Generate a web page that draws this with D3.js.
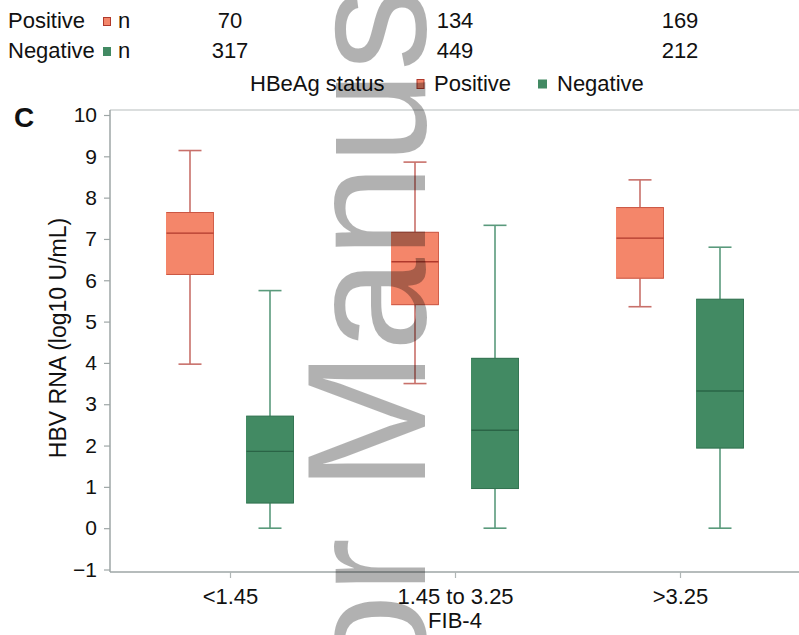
<!DOCTYPE html>
<html><head><meta charset="utf-8">
<script src="https://cdn.jsdelivr.net/npm/d3@7/dist/d3.min.js"></script>
<style>body{margin:0;background:#fff}svg{display:block;font-family:"Liberation Sans",Arial,sans-serif}</style>
</head><body>
<script>
const categories = ["<1.45", "1.45 to 3.25", ">3.25"];
const groups = ["Positive", "Negative"];
const nPositive = [70, 134, 169];
const nNegative = [317, 449, 212];
const posMin = [3.97, 3.50, 5.36];
const posQ1 = [6.14, 5.41, 6.05];
const posMedian = [7.14, 6.45, 7.02];
const posQ3 = [7.64, 7.16, 7.76];
const posMax = [9.14, 8.86, 8.43];
const negMin = [0, 0, 0];
const negQ1 = [0.61, 0.96, 1.94];
const negMedian = [1.86, 2.37, 3.32];
const negQ3 = [2.71, 4.11, 5.54];
const negMax = [5.75, 7.33, 6.80];
const yTicks = [-1, 0, 1, 2, 3, 4, 5, 6, 7, 8, 9, 10];

const W = 799, H = 635;
const svg = d3.select("body").append("svg").attr("width", W).attr("height", H);

const y = d3.scaleLinear().domain([-1, 10]).range([569.5, 115]);
const x = d3.scalePoint().domain(categories).range([230, 680]);
const off = d3.scalePoint().domain(groups).range([-40, 40]);
const boxW = 47, capW = 23;
const style = {
  Positive: {fill: "#f4866a", stroke: "#b0392c", whisker: "#c8706a"},
  Negative: {fill: "#428a63", stroke: "#2a6446", whisker: "#5a9a7c"}
};

const plotL = 110, plotR = 799, plotT = 110, plotB = 572;
svg.append("line").attr("x1", plotL).attr("x2", plotR).attr("y1", plotT).attr("y2", plotT)
  .attr("stroke", "#cfd3d3").attr("stroke-width", 1.5);
svg.append("line").attr("x1", plotL).attr("x2", plotL).attr("y1", plotT).attr("y2", plotB)
  .attr("stroke", "#9ea6a6").attr("stroke-width", 1.5);
svg.append("line").attr("x1", plotL).attr("x2", plotR).attr("y1", plotB).attr("y2", plotB)
  .attr("stroke", "#9ea6a6").attr("stroke-width", 1.5);

const yAxis = d3.axisLeft(y).tickValues(yTicks).tickSize(6).tickPadding(7)
  .tickFormat(d => d < 0 ? "\u2212" + Math.abs(d) : d);
const gy = svg.append("g").attr("transform", `translate(${plotL},0)`).call(yAxis);
gy.select(".domain").remove();
gy.selectAll(".tick line").attr("stroke", "#9ea6a6").attr("stroke-width", 1.2);
gy.selectAll(".tick text").attr("font-size", 21).attr("fill", "#111").attr("font-family", "Liberation Sans, Arial, sans-serif");

const xAxis = d3.axisBottom(x).tickSize(6).tickPadding(10);
const gx = svg.append("g").attr("transform", `translate(0,${plotB})`).call(xAxis);
gx.select(".domain").remove();
gx.selectAll(".tick line").attr("stroke", "#b0b6b6").attr("stroke-width", 1.2);
gx.selectAll(".tick text").attr("font-size", 22).attr("fill", "#111").attr("font-family", "Liberation Sans, Arial, sans-serif");

svg.append("text").attr("transform", "translate(66,338) rotate(-90)")
  .attr("text-anchor", "middle").attr("font-size", 23).attr("fill", "#111").text("HBV RNA (log10 U/mL)");
svg.append("text").attr("x", x(categories[1])).attr("y", 628).attr("text-anchor", "middle")
  .attr("font-size", 22).attr("fill", "#111").text("FIB-4");

svg.append("text").attr("x", 14).attr("y", 127).attr("font-size", 28).attr("font-weight", "bold")
  .attr("fill", "#111").text("C");

const boxes = [];
categories.forEach((c, i) => {
  boxes.push({cat: c, grp: "Positive", min: posMin[i], q1: posQ1[i], med: posMedian[i], q3: posQ3[i], max: posMax[i]});
  boxes.push({cat: c, grp: "Negative", min: negMin[i], q1: negQ1[i], med: negMedian[i], q3: negQ3[i], max: negMax[i]});
});

const bg = svg.append("g");
boxes.forEach(b => {
  const cx = x(b.cat) + off(b.grp);
  const s = style[b.grp];
  const g = bg.append("g");
  g.append("line").attr("x1", cx).attr("x2", cx).attr("y1", y(b.max)).attr("y2", y(b.q3))
    .attr("stroke", s.whisker).attr("stroke-width", 1.6);
  g.append("line").attr("x1", cx).attr("x2", cx).attr("y1", y(b.q1)).attr("y2", y(b.min))
    .attr("stroke", s.whisker).attr("stroke-width", 1.6);
  g.append("line").attr("x1", cx - capW / 2).attr("x2", cx + capW / 2).attr("y1", y(b.max)).attr("y2", y(b.max))
    .attr("stroke", s.whisker).attr("stroke-width", 1.6);
  g.append("line").attr("x1", cx - capW / 2).attr("x2", cx + capW / 2).attr("y1", y(b.min)).attr("y2", y(b.min))
    .attr("stroke", s.whisker).attr("stroke-width", 1.6);
  g.append("rect").attr("x", cx - boxW / 2).attr("y", y(b.q3)).attr("width", boxW)
    .attr("height", y(b.q1) - y(b.q3)).attr("fill", s.fill).attr("stroke", s.fill).attr("stroke-width", 1);
  g.append("line").attr("x1", cx - boxW / 2).attr("x2", cx + boxW / 2).attr("y1", y(b.q3)).attr("y2", y(b.q3))
    .attr("stroke", s.stroke).attr("stroke-width", 1).attr("opacity", 0.6);
  g.append("line").attr("x1", cx - boxW / 2).attr("x2", cx + boxW / 2).attr("y1", y(b.q1)).attr("y2", y(b.q1))
    .attr("stroke", s.stroke).attr("stroke-width", 1).attr("opacity", 0.6);
  g.append("line").attr("x1", cx + boxW / 2).attr("x2", cx + boxW / 2).attr("y1", y(b.q3)).attr("y2", y(b.q1))
    .attr("stroke", s.stroke).attr("stroke-width", 1).attr("opacity", 0.5);
  g.append("line").attr("x1", cx - boxW / 2).attr("x2", cx + boxW / 2).attr("y1", y(b.med)).attr("y2", y(b.med))
    .attr("stroke", s.stroke).attr("stroke-width", 1.4);
});

const tf = 22;
svg.append("text").attr("x", 8).attr("y", 28).attr("font-size", tf).attr("fill", "#111").text("Positive");
svg.append("text").attr("x", 8).attr("y", 58).attr("font-size", tf).attr("fill", "#111").text("Negative");
svg.append("rect").attr("x", 103.5).attr("y", 17.5).attr("width", 7).attr("height", 8)
  .attr("fill", style.Positive.fill).attr("stroke", style.Positive.stroke).attr("stroke-width", 1);
svg.append("rect").attr("x", 103).attr("y", 47).attr("width", 8).attr("height", 9)
  .attr("fill", style.Negative.fill);
svg.append("text").attr("x", 118).attr("y", 28).attr("font-size", tf).attr("fill", "#111").text("n");
svg.append("text").attr("x", 118).attr("y", 58).attr("font-size", tf).attr("fill", "#111").text("n");
categories.forEach((c, i) => {
  svg.append("text").attr("x", x(c)).attr("y", 28).attr("text-anchor", "middle").attr("font-size", tf)
    .attr("fill", "#111").text(nPositive[i]);
  svg.append("text").attr("x", x(c)).attr("y", 58).attr("text-anchor", "middle").attr("font-size", tf)
    .attr("fill", "#111").text(nNegative[i]);
});

svg.append("text").attr("x", 250).attr("y", 91).attr("font-size", 22).attr("fill", "#111").text("HBeAg status");
const legX = {Positive: 417, Negative: 538};
groups.forEach(gname => {
  svg.append("rect").attr("x", legX[gname]).attr("y", 79.5).attr("width", gname === "Positive" ? 7 : 9)
    .attr("height", 9).attr("fill", style[gname].fill)
    .attr("stroke", gname === "Positive" ? style.Positive.stroke : "none").attr("stroke-width", 1);
  svg.append("text").attr("x", legX[gname] + (gname === "Positive" ? 17 : 19)).attr("y", 91)
    .attr("font-size", 22).attr("fill", "#111").text(gname);
});

svg.append("text").attr("transform", "translate(425,1033) rotate(-90)")
  .attr("font-size", 168).attr("fill", "#000").attr("opacity", 0.3)
  .attr("font-family", "Liberation Sans, Arial, sans-serif").text("Author Manuscript");
</script>
</body></html>
